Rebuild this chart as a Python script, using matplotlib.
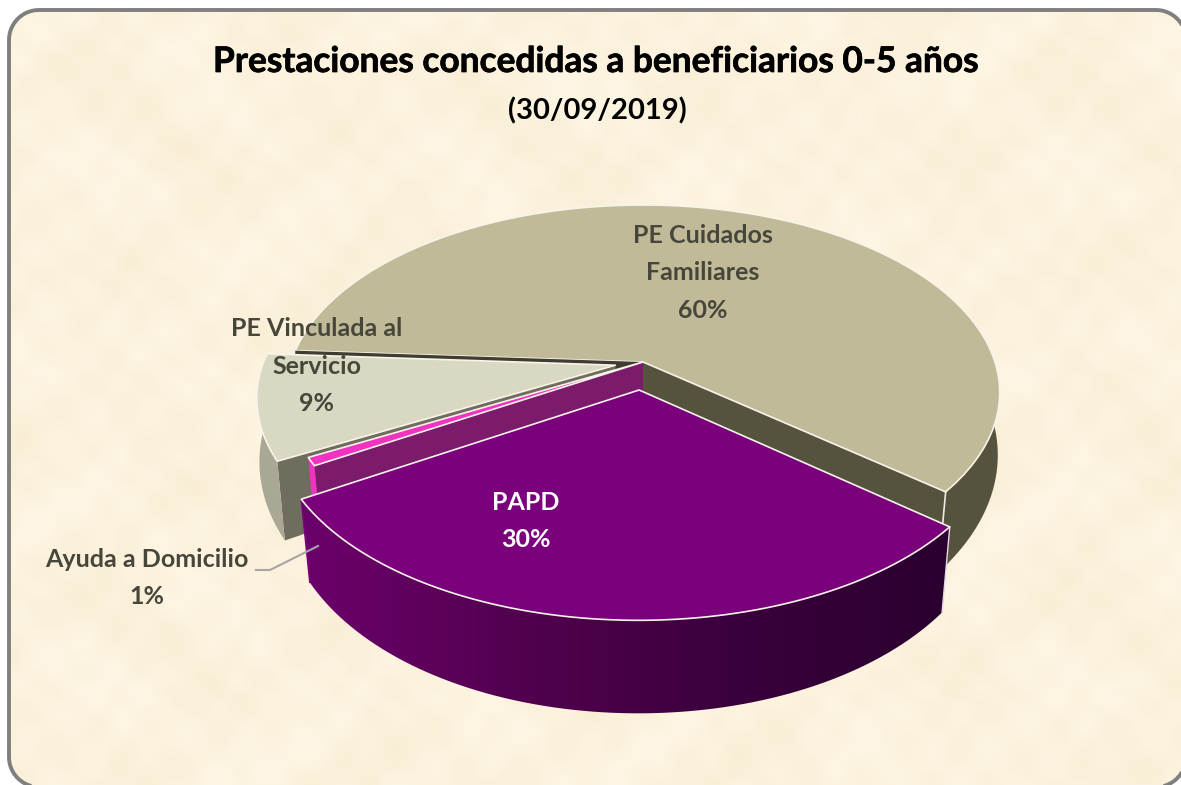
import numpy as np
import matplotlib
matplotlib.use('Agg')
import matplotlib.pyplot as plt
import matplotlib.patheffects as pe
from matplotlib.colors import LinearSegmentedColormap
from matplotlib.patches import Polygon

# Slice data, in drawing order (counter-clockwise from the right-hand edge of the tan slice)
categories = ['PE Cuidados\nFamiliares', 'PE Vinculada al\nServicio', 'Ayuda a Domicilio', 'PAPD']
values = [60.0, 9.0, 0.7, 30.3]
explode = [0.0, 0.08, 0.0, 0.15]
top_colors = ['#c1ba98', '#d9d8c3', '#f232c0', '#7b007b']
side_colors = ['#55523d', '#a9a795', '#f232c0', '#7b007b']
wall_colors = ['#55523d', '#6f6d5e', '#7c1a6c', '#7b007b']
label_xy = [(703, 273), (317, 366), (147, 578), (526, 521)]
label_colors = ['#47463b', '#47463b', '#47463b', '#ffffff']

title = 'Prestaciones concedidas a beneficiarios 0-5 años'
subtitle = '(30/09/2019)'

W, H = 1181, 785
CX, CY = 643, 362          # where the slices meet on screen
RX, RY, PERSP = 352, 182.6, 0.163
START_ANGLE = -39.6


def project(u, v):
    w = 1 + PERSP * v
    return CX + RX * u / w, CY - RY * v / w


def drop(x, y):
    # same point on the underside of the pie
    scale = 1 - 0.025 * np.clip((y - CY) / 120, 0, 1)
    return CX + scale * (x - CX), y + 62 + 0.12 * (y - CY) + 4e-5 * (x - CX) ** 2


def slice_points(a0, a1, off, n=80):
    t = np.radians(np.linspace(a0, a1, n))
    return project(off[0] + np.cos(t), off[1] + np.sin(t))


def rounded_frame(x0, y0, x1, y1, r, n=24):
    # plain polyline: curved box paths get mangled where they cross the canvas edge
    corners = [(x1 - r, y0 + r, 0), (x0 + r, y0 + r, 90), (x0 + r, y1 - r, 180), (x1 - r, y1 - r, 270)]
    pts = []
    for cx, cy, a in corners:
        t = np.radians(np.linspace(a, a + 90, n))
        pts.append(np.column_stack([cx + r * np.cos(t), cy - r * np.sin(t)]))
    return np.vstack(pts)


plt.rcParams['font.family'] = ['Lato', 'DejaVu Sans']
plt.rcParams['font.weight'] = 'bold'

fig = plt.figure(figsize=(W / 100, H / 100), dpi=100)
ax = fig.add_axes([0, 0, 1, 1])
ax.set_xlim(0, W)
ax.set_ylim(H, 0)
ax.axis('off')

# Parchment background inside the rounded frame
yy, xx = np.mgrid[0:H:2, 0:W:2]
mottle = (np.sin(xx / 31 + np.sin(yy / 41) * 2) + np.sin(yy / 27 + np.sin(xx / 53) * 2)
          + 0.8 * np.sin((xx + yy) / 11 + np.sin(xx / 19)) + 0.7 * np.sin((xx - yy) / 9 + np.sin(yy / 17)))
paper = LinearSegmentedColormap.from_list('paper', ['#f9eed5', '#fcf2dd', '#fef6e6'])
bg = ax.imshow(mottle, cmap=paper, extent=(0, W, H, 0), aspect='auto', zorder=0, interpolation='bilinear')
frame = Polygon(rounded_frame(9, 10, 1186, 787, 30), closed=True, fc='none', ec='#7f7f7f', lw=2.8, zorder=1)
ax.add_patch(frame)
bg.set_clip_path(frame)

# Slice angles and their offsets from the shared centre
shares = np.array(values) / sum(values) * 360
starts = START_ANGLE + np.concatenate(([0], np.cumsum(shares)[:-1]))
ends = starts + shares
offsets = []
for a0, a1, e in zip(starts, ends, explode):
    mid = np.radians((a0 + a1) / 2)
    offsets.append((e * np.cos(mid), e * np.sin(mid)))

edge = dict(ec='#f8f4ea', lw=1.2, joinstyle='round')

# Dark cut face of the tan slice, seen only as a seam behind the next slice
sx, sy = slice_points(ends[0], ends[0], offsets[0], n=1)
bx, by = drop(sx[0], sy[0])
apx, apy = drop(CX, CY)
ax.add_patch(Polygon([(CX, CY), (sx[0], sy[0]), (bx, by), (apx, apy)], fc='#3f3d30', ec='none', zorder=2.6))

# Drawn back to front, so each shape covers what is behind it
for i in [0, 1, 2, 3]:
    a0, a1, off = starts[i], ends[i], offsets[i]
    z = 2 + i
    ax_, ay_ = project(off[0], off[1])

    # wall on the cut face turned towards the viewer
    if i == 0:
        wall_angle = a0
    else:
        wall_angle = a1
    if i != 3:
        wx, wy = slice_points(wall_angle, wall_angle, off, n=1)
        bx, by = drop(wx[0], wy[0])
        apx, apy = drop(ax_, ay_)
        ax.add_patch(Polygon([(ax_, ay_), (wx[0], wy[0]), (bx, by), (apx, apy)],
                             fc=wall_colors[i], ec='none', zorder=z))

    # outer side of the slice, only the part facing the viewer
    s0, s1 = (a0, 12) if i == 0 else (a0, a1)
    sx, sy = slice_points(s0, s1, off)
    dx, dy = drop(sx, sy)
    side_xy = np.column_stack([np.r_[sx, dx[::-1]], np.r_[sy, dy[::-1]]])
    side = Polygon(side_xy, fc=side_colors[i], ec='none', zorder=z)
    ax.add_patch(side)
    if i == 3:
        purple = LinearSegmentedColormap.from_list('purple', ['#6c006c', '#52004f', '#3a003c', '#2a002f'])
        side.set_facecolor('none')
        im = ax.imshow(np.linspace(0, 1, 256)[None, :], cmap=purple, aspect='auto',
                       extent=(sx.min(), sx.max(), H, 0), zorder=z)
        im.set_clip_path(side)
        ax.set_xlim(0, W)
        ax.set_ylim(H, 0)
        # thin light line where the side meets the right corner
        ax.plot([sx[-1], dx[-1]], [sy[-1], dy[-1]], color='#e8d8ea', lw=1, zorder=z)
        ax.plot([sx[0], dx[0]], [sy[0], dy[0]], color='#7b007b', lw=1, zorder=z)
    if i == 0:
        ax.plot([sx[0], dx[0]], [sy[0], dy[0]], color='#f0ece0', lw=1.2, zorder=z)

    # top face
    tx, ty = slice_points(a0, a1, off)
    top_xy = np.column_stack([np.r_[ax_, tx], np.r_[ay_, ty]])
    ax.add_patch(Polygon(top_xy, fc=top_colors[i], zorder=z + 0.5, **edge))

# Labels: name and rounded share, one line per row as in the reference
for name, val, (x, y), col in zip(categories, values, label_xy, label_colors):
    rows = name.split('\n') + ['%d%%' % round(val)]
    y0 = y - (len(rows) - 1) * 37.5 / 2
    for k, row in enumerate(rows):
        ax.text(x, y0 + k * 37.5, row, ha='center', va='center', fontsize=18, color=col, zorder=10)

# Leader of the smallest slice
ax.plot([256, 270, 318], [570, 570, 546], color='#a6a6a6', lw=1.5, zorder=10)

bold = [pe.withStroke(linewidth=0.5, foreground='black')]
ax.text(596, 62, title, ha='center', va='center', fontsize=25.4, color='black', zorder=10, path_effects=bold)
ax.text(597, 111, subtitle, ha='center', va='center', fontsize=21, color='black', zorder=10)

fig.savefig('out.png', dpi=100)
plt.close(fig)
